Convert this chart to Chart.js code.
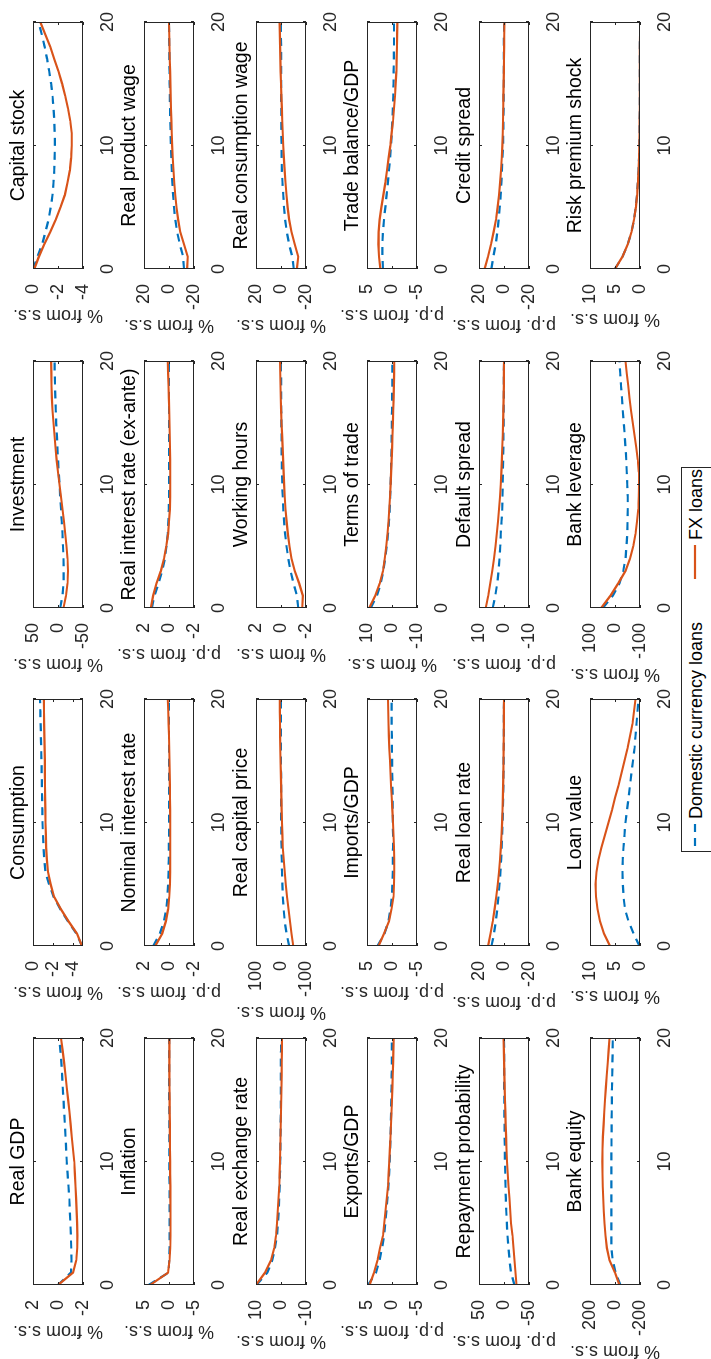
<!DOCTYPE html>
<html>
<head>
<meta charset="utf-8">
<script src="https://cdn.jsdelivr.net/npm/chart.js@4.4.1/dist/chart.umd.min.js"></script>
<style>
  html, body { margin: 0; padding: 0; background: #fff; overflow: hidden; }
  body { width: 711px; height: 1359px; position: relative; }
  /* the figure is laid out landscape and turned a quarter turn left */
  #fig { position: absolute; left: 0; top: 0; width: 1359px; height: 711px;
         transform-origin: 0 0; transform: translateY(1359px) rotate(-90deg); background: #fff; }
  #fig canvas { position: absolute; }
  .legend { position: absolute; left: 507px; top: 681px; width: 385px; height: 34px;
            box-sizing: border-box; border: 1px solid #262626; background: #fff;
            font-family: "Liberation Sans", Arial, sans-serif; font-size: 18px; color: #000; }
  .legend .item { position: absolute; top: 1px; height: 26px; line-height: 26px; white-space: nowrap; }
  .legend svg { position: absolute; top: 0; }
</style>
</head>
<body>
<div id="fig">
  <div class="legend">
    <svg width="385" height="26">
      <line x1="5" y1="13" x2="27" y2="13" stroke="#0072BD" stroke-width="2.2" stroke-dasharray="8,6"></line>
      <line x1="272" y1="13" x2="306" y2="13" stroke="#D95319" stroke-width="2.2"></line>
    </svg>
    <span class="item" style="left:32px">Domestic currency loans</span>
    <span class="item" style="left:311px">FX loans</span>
  </div>
</div>
<script>
// quarters after the shock
const steps = [0, 1, 2, 3, 4, 5, 6, 7, 8, 9, 10, 11, 12, 13, 14, 15, 16, 17, 18, 19, 20];
const xTicks = [0, 10, 20];

// row 1
const realGdpDom = [0, -1.03, -1.08, -1.06, -1.03, -0.99, -0.95, -0.9, -0.84, -0.77, -0.7, -0.65, -0.6, -0.55, -0.49, -0.44, -0.38, -0.33, -0.27, -0.19, -0.11];
const realGdpFx = [0, -1.2, -1.46, -1.54, -1.55, -1.53, -1.49, -1.45, -1.4, -1.35, -1.3, -1.2, -1.1, -1.01, -0.92, -0.81, -0.7, -0.6, -0.49, -0.37, -0.24];
const consumptionDom = [-4.9, -4.35, -3.5, -2.72, -2.05, -1.6, -1.25, -1.12, -1.05, -1.0, -0.95, -0.93, -0.91, -0.89, -0.87, -0.85, -0.82, -0.79, -0.76, -0.73, -0.7];
const consumptionFx = [-4.9, -4.4, -3.55, -2.77, -2.1, -1.76, -1.5, -1.39, -1.32, -1.28, -1.25, -1.23, -1.22, -1.2, -1.19, -1.18, -1.16, -1.14, -1.12, -1.1, -1.08];
const investmentDom = [-4.5, -9, -11, -11.3, -11, -10, -9, -7.5, -6, -4.5, -3, -1.5, 0, 1.2, 2.4, 3.6, 4.5, 5.3, 6, 6.5, 7];
const investmentFx = [-11, -16, -19, -20, -19, -17, -14.5, -12, -9, -6, -3, 0, 2.7, 5, 7, 9, 11, 12.2, 13, 13.4, 13.6];
const capitalDom = [0, -0.36, -0.73, -1.0, -1.24, -1.42, -1.56, -1.64, -1.7, -1.73, -1.75, -1.74, -1.7, -1.64, -1.56, -1.45, -1.3, -1.13, -0.93, -0.7, -0.45];
const capitalFx = [-0.1, -0.47, -0.9, -1.38, -1.82, -2.2, -2.55, -2.76, -2.95, -3.05, -3.1, -3.1, -2.98, -2.8, -2.58, -2.33, -2.04, -1.7, -1.38, -0.98, -0.58];
// row 2
const inflationDom = [4.1, 0.1, -0.05, -0.1, -0.12, -0.12, -0.12, -0.11, -0.1, -0.09, -0.08, -0.07, -0.06, -0.05, -0.05, -0.04, -0.04, -0.03, -0.03, -0.02, -0.02];
const inflationFx = [3.8, 0.2, -0.1, -0.25, -0.3, -0.3, -0.3, -0.28, -0.26, -0.24, -0.22, -0.2, -0.18, -0.16, -0.14, -0.12, -0.1, -0.09, -0.08, -0.07, -0.06];
const nominalRateDom = [1.27, 0.73, 0.4, 0.22, 0.12, 0.07, 0.04, 0.02, 0.01, 0, 0, 0, 0, 0, 0, 0, 0, 0, 0, 0, 0];
const nominalRateFx = [1.1, 0.55, 0.25, 0.07, -0.02, -0.07, -0.09, -0.1, -0.1, -0.1, -0.1, -0.09, -0.08, -0.07, -0.05, -0.04, -0.02, 0, 0.03, 0.06, 0.1];
const realRateDom = [1.38, 1.16, 0.84, 0.55, 0.33, 0.2, 0.1, 0.05, 0.02, 0, -0.01, -0.01, -0.01, 0, 0, 0, 0, 0, 0, 0, 0];
const realRateFx = [1.45, 1.27, 1.0, 0.65, 0.4, 0.22, 0.07, 0, -0.07, -0.09, -0.1, -0.1, -0.09, -0.08, -0.06, -0.04, -0.02, 0.01, 0.04, 0.07, 0.1];
const productWageDom = [-12, -11.3, -8.7, -6.5, -5, -4, -3.3, -2.7, -2.2, -1.8, -1.5, -1.25, -1.05, -0.85, -0.7, -0.55, -0.42, -0.3, -0.2, -0.1, 0];
const productWageFx = [-14.5, -15, -12, -9, -7.3, -6, -5, -4.2, -3.6, -3, -2.5, -2.2, -1.9, -1.6, -1.35, -1.1, -0.85, -0.6, -0.4, -0.2, 0];
// row 3
const exchangeRateDom = [9.8, 5.5, 3.5, 2.4, 1.6, 1.2, 0.9, 0.7, 0.5, 0.4, 0.3, 0.25, 0.2, 0.15, 0.1, 0.08, 0.06, 0.04, 0.02, 0.01, 0];
const exchangeRateFx = [10, 6.4, 4, 2.7, 2, 1.6, 1.3, 1.0, 0.7, 0.55, 0.4, 0.3, 0.2, 0.1, 0, -0.1, -0.2, -0.25, -0.3, -0.35, -0.4];
const capitalPriceDom = [-33, -22, -15, -10.5, -7, -5.5, -4, -3, -2, -1.3, -0.8, -0.5, -0.3, -0.2, -0.1, 0, 0, 0, 0, 0, 0];
const capitalPriceFx = [-49, -42, -36, -30, -24, -19, -15, -11, -7, -5.5, -4, -2.5, -1.5, -0.5, 0.5, 2, 3, 3.5, 4, 4.5, 5];
const hoursDom = [-1.38, -1.27, -1.0, -0.76, -0.58, -0.44, -0.33, -0.25, -0.18, -0.14, -0.1, -0.08, -0.06, -0.05, -0.04, -0.03, -0.02, -0.01, -0.01, 0, 0];
const hoursFx = [-1.7, -1.75, -1.45, -1.1, -0.84, -0.68, -0.55, -0.45, -0.36, -0.3, -0.25, -0.21, -0.17, -0.13, -0.09, -0.04, -0.01, 0.02, 0.04, 0.06, 0.07];
const consWageDom = [-10.2, -9, -6.5, -4.7, -3.3, -2.4, -1.8, -1.2, -0.7, -0.5, -0.4, -0.3, -0.25, -0.2, -0.15, -0.1, -0.08, -0.05, -0.03, -0.01, 0];
const consWageFx = [-12.7, -13.8, -11, -8.4, -6.5, -5.3, -4.4, -3.6, -2.9, -2.3, -1.8, -1.4, -1.0, -0.7, -0.35, 0, 0.3, 0.55, 0.75, 0.95, 1.1];
// row 4
const exportsDom = [4.8, 3.2, 2.5, 2.0, 1.6, 1.35, 1.1, 0.9, 0.7, 0.57, 0.45, 0.37, 0.3, 0.24, 0.18, 0.13, 0.09, 0.06, 0.04, 0.02, 0];
const exportsFx = [4.5, 3.6, 2.9, 2.4, 1.8, 1.55, 1.3, 1.05, 0.8, 0.68, 0.55, 0.42, 0.3, 0.2, 0.1, 0, -0.08, -0.15, -0.22, -0.29, -0.35];
const importsDom = [2.9, 1.5, 0.7, 0.3, 0.05, -0.1, -0.15, -0.18, -0.2, -0.2, -0.18, -0.15, -0.12, -0.08, -0.05, -0.02, 0.01, 0.04, 0.06, 0.08, 0.1];
const importsFx = [2.7, 1.6, 0.6, 0.1, -0.3, -0.4, -0.45, -0.45, -0.4, -0.3, -0.2, -0.07, 0.05, 0.2, 0.3, 0.4, 0.55, 0.62, 0.7, 0.75, 0.8];
const termsDom = [8.5, 6.0, 4.5, 3.5, 2.7, 2.1, 1.6, 1.2, 0.9, 0.7, 0.55, 0.42, 0.3, 0.2, 0.12, 0.05, 0, -0.05, -0.1, -0.15, -0.2];
const termsFx = [9.1, 6.7, 4.9, 3.6, 2.9, 2.3, 1.8, 1.4, 1.1, 0.8, 0.55, 0.35, 0.15, -0.05, -0.2, -0.36, -0.5, -0.62, -0.72, -0.82, -0.9];
const tradeBalDom = [1.8, 1.93, 1.93, 1.8, 1.6, 1.33, 1.07, 0.83, 0.6, 0.4, 0.2, 0.05, -0.07, -0.18, -0.27, -0.3, -0.33, -0.37, -0.4, -0.4, -0.4];
const tradeBalFx = [2.33, 2.6, 2.73, 2.67, 2.47, 2.13, 1.73, 1.33, 1.0, 0.67, 0.33, 0.07, -0.2, -0.4, -0.6, -0.73, -0.87, -0.94, -1.0, -1.04, -1.07];
// row 5
const repaymentDom = [-21, -14, -11, -9, -7, -5.8, -4.5, -3.6, -3, -2.5, -2, -1.6, -1.3, -1, -0.8, -0.6, -0.4, -0.3, -0.2, -0.1, 0];
const repaymentFx = [-25, -23, -21, -19, -17, -14, -12.5, -11, -9, -7.5, -6, -5, -4.2, -3.4, -2.7, -2, -1.4, -0.8, -0.3, 0.3, 1];
const loanRateDom = [10, 8, 6.5, 5.4, 4.4, 3.6, 2.9, 2.3, 1.8, 1.4, 1.1, 0.85, 0.65, 0.5, 0.38, 0.28, 0.2, 0.13, 0.08, 0.04, 0];
const loanRateFx = [12.7, 10.8, 9, 7.5, 6.2, 5, 4, 3.2, 2.5, 2.0, 1.5, 1.2, 0.95, 0.75, 0.55, 0.4, 0.3, 0.2, 0.1, 0.05, 0];
const defaultSpreadDom = [4.5, 3.5, 2.7, 2.2, 1.8, 1.5, 1.3, 1.0, 0.7, 0.6, 0.55, 0.45, 0.35, 0.28, 0.22, 0.16, 0.12, 0.08, 0.05, 0.02, 0];
const defaultSpreadFx = [7.3, 6.3, 5.5, 4.7, 4, 3.4, 2.9, 2.4, 2, 1.6, 1.3, 1.05, 0.85, 0.7, 0.5, 0.36, 0.25, 0.15, 0.08, 0.03, 0];
const creditSpreadDom = [10.1, 8.5, 6.7, 5.3, 4.3, 3.4, 2.7, 2.1, 1.6, 1.2, 0.8, 0.6, 0.45, 0.35, 0.25, 0.18, 0.12, 0.08, 0.05, 0.02, 0];
const creditSpreadFx = [15.5, 12.8, 10.4, 8.3, 6.4, 5.1, 4.0, 3.1, 2.4, 1.8, 1.3, 1.0, 0.8, 0.6, 0.45, 0.3, 0.15, 0, -0.1, -0.2, -0.3];
// row 6
const bankEquityDom = [-44, -4, 18, 29, 29, 29, 29, 29, 29, 29, 29, 28, 28, 27, 26, 25, 24, 22, 21, 19, 18];
const bankEquityFx = [-36, 0, 44, 65, 76, 84, 90, 94, 98, 100, 102, 100, 97, 91, 86, 80, 73, 66, 58, 51, 44];
const loanValueDom = [0.1, 1.3, 2.3, 3.0, 3.3, 3.45, 3.5, 3.45, 3.3, 3.1, 2.9, 2.6, 2.3, 2.0, 1.7, 1.4, 1.1, 0.9, 0.7, 0.5, 0.3];
const loanValueFx = [6.0, 7.2, 8.0, 8.5, 8.8, 8.9, 8.7, 8.3, 7.7, 7.0, 6.3, 5.6, 5.0, 4.3, 3.7, 3.1, 2.5, 2.0, 1.5, 1.2, 0.9];
const leverageDom = [49, 9, -18, -33, -42, -46, -49, -50, -51, -51, -49, -47, -45, -42, -39, -35, -31, -28, -24, -21, -18];
const leverageFx = [55, 18, -13, -42, -60, -73, -82, -88, -93, -95, -96, -95, -91, -85, -78, -71, -64, -58, -53, -47, -42];
const riskPremiumDom = [5.0, 3.5, 2.45, 1.7, 1.2, 0.84, 0.59, 0.41, 0.29, 0.2, 0.14, 0.1, 0.07, 0.05, 0.03, 0.02, 0.02, 0.01, 0.01, 0, 0];
const riskPremiumFx = [5.0, 3.5, 2.45, 1.7, 1.2, 0.84, 0.59, 0.41, 0.29, 0.2, 0.14, 0.1, 0.07, 0.05, 0.03, 0.02, 0.02, 0.01, 0.01, 0, 0];

const titles = [
  'Real GDP', 'Consumption', 'Investment', 'Capital stock',
  'Inflation', 'Nominal interest rate', 'Real interest rate (ex-ante)', 'Real product wage',
  'Real exchange rate', 'Real capital price', 'Working hours', 'Real consumption wage',
  'Exports/GDP', 'Imports/GDP', 'Terms of trade', 'Trade balance/GDP',
  'Repayment probability', 'Real loan rate', 'Default spread', 'Credit spread',
  'Bank equity', 'Loan value', 'Bank leverage', 'Risk premium shock'
];
const PCT = '% from s.s.';
const PP = 'p.p. from s.s.';
const yLabels = [
  PCT, PCT, PCT, PCT,
  PCT, PP, PP, PCT,
  PCT, PCT, PCT, PCT,
  PP, PP, PCT, PP,
  PP, PP, PP, PP,
  PCT, PCT, PCT, PCT
];
const yLimits = [
  [-2, 2], [-5, 0], [-50, 50], [-4, 0],
  [-5, 5], [-2, 2], [-2, 2], [-20, 20],
  [-10, 10], [-100, 100], [-2, 2], [-20, 20],
  [-5, 5], [-5, 5], [-10, 10], [-5, 5],
  [-50, 50], [-20, 20], [-10, 10], [-20, 20],
  [-200, 200], [0, 10], [-100, 100], [0, 10]
];
const yTickSets = [
  [-2, 0, 2], [-4, -2, 0], [-50, 0, 50], [-4, -2, 0],
  [-5, 0, 5], [-2, 0, 2], [-2, 0, 2], [-20, 0, 20],
  [-10, 0, 10], [-100, 0, 100], [-2, 0, 2], [-20, 0, 20],
  [-5, 0, 5], [-5, 0, 5], [-10, 0, 10], [-5, 0, 5],
  [-50, 0, 50], [-20, 0, 20], [-10, 0, 10], [-20, 0, 20],
  [-200, 0, 200], [0, 5, 10], [-100, 0, 100], [0, 5, 10]
];
const domSeries = [
  realGdpDom, consumptionDom, investmentDom, capitalDom,
  inflationDom, nominalRateDom, realRateDom, productWageDom,
  exchangeRateDom, capitalPriceDom, hoursDom, consWageDom,
  exportsDom, importsDom, termsDom, tradeBalDom,
  repaymentDom, loanRateDom, defaultSpreadDom, creditSpreadDom,
  bankEquityDom, loanValueDom, leverageDom, riskPremiumDom
];
const fxSeries = [
  realGdpFx, consumptionFx, investmentFx, capitalFx,
  inflationFx, nominalRateFx, realRateFx, productWageFx,
  exchangeRateFx, capitalPriceFx, hoursFx, consWageFx,
  exportsFx, importsFx, termsFx, tradeBalFx,
  repaymentFx, loanRateFx, defaultSpreadFx, creditSpreadFx,
  bankEquityFx, loanValueFx, leverageFx, riskPremiumFx
];

const FONT = '"Liberation Sans", Arial, Helvetica, sans-serif';
const TITLE_SIZE = 19.5, TICK_SIZE = 18, LABEL_SIZE = 18;
const INK = '#262626';
const BLUE = '#0072BD', RED = '#D95319';

// grid of plot boxes in the landscape figure
const PLOT_X0 = 74, COL_STEP = 338.7, PLOT_W = 249;
const PLOT_Y0 = 33, ROW_STEP = 111.4, PLOT_H = 50;
const LEFT = 88, RIGHT = 14, TOP = 30, BOTTOM = 40;
const Y_TICK_PAD = 7, LABEL_GAP = 12;

Chart.defaults.font.family = FONT;
Chart.defaults.color = INK;

// box with inward tick marks, like the original axes
const boxAxes = {
  id: 'boxAxes',
  afterDatasetsDraw(chart) {
    const { ctx, chartArea: a, scales: { x, y } } = chart;
    const tl = 3;
    ctx.save();
    ctx.strokeStyle = INK;
    ctx.lineWidth = 1;
    ctx.strokeRect(a.left + 0.5, a.top + 0.5, a.width - 1, a.height - 1);
    ctx.beginPath();
    x.ticks.forEach(t => {
      const px = Math.round(x.getPixelForValue(t.value)) + 0.5;
      ctx.moveTo(px, a.bottom); ctx.lineTo(px, a.bottom - tl);
      ctx.moveTo(px, a.top); ctx.lineTo(px, a.top + tl);
    });
    y.ticks.forEach(t => {
      const py = Math.round(y.getPixelForValue(t.value)) + 0.5;
      ctx.moveTo(a.left, py); ctx.lineTo(a.left + tl, py);
      ctx.moveTo(a.right, py); ctx.lineTo(a.right - tl, py);
    });
    ctx.stroke();
    ctx.restore();
  }
};

const measure = document.createElement('canvas').getContext('2d');
measure.font = TICK_SIZE + 'px ' + FONT;

const fig = document.getElementById('fig');
titles.forEach((title, i) => {
  const row = Math.floor(i / 4), col = i % 4;
  const plotLeft = Math.round(PLOT_X0 + col * COL_STEP);
  const plotTop = Math.round(PLOT_Y0 + row * ROW_STEP);
  const w = LEFT + PLOT_W + RIGHT, h = TOP + PLOT_H + BOTTOM;

  const canvas = document.createElement('canvas');
  canvas.width = w; canvas.height = h;
  canvas.style.width = w + 'px'; canvas.style.height = h + 'px';
  canvas.style.left = (plotLeft - LEFT) + 'px';
  canvas.style.top = (plotTop - TOP) + 'px';
  fig.appendChild(canvas);

  // put the y label just outside the widest tick label
  const widest = Math.max(...yTickSets[i].map(v => measure.measureText(String(v)).width));
  const labelPad = LEFT - (Y_TICK_PAD + widest + LABEL_GAP + LABEL_SIZE * 1.2);

  new Chart(canvas, {
    type: 'line',
    data: {
      datasets: [
        { label: 'FX loans', data: steps.map((s, k) => ({ x: s, y: fxSeries[i][k] })),
          borderColor: RED, borderWidth: 2.2, pointRadius: 0, tension: 0, fill: false },
        { label: 'Domestic currency loans', data: steps.map((s, k) => ({ x: s, y: domSeries[i][k] })),
          borderColor: BLUE, borderWidth: 2.2, borderDash: [8, 6], pointRadius: 0, tension: 0, fill: false }
      ]
    },
    options: {
      responsive: false,
      animation: false,
      events: [],
      layout: { padding: { left: 0, right: RIGHT, top: 0, bottom: 0 } },
      plugins: {
        legend: { display: false },
        tooltip: { enabled: false },
        title: {
          display: true, text: title, color: '#000', fullSize: false,
          font: { size: TITLE_SIZE, weight: 'normal' },
          padding: { top: TOP - TITLE_SIZE * 1.2 - 3, bottom: 3 }
        }
      },
      scales: {
        x: {
          type: 'linear', min: 0, max: 20,
          grid: { display: false }, border: { display: false },
          ticks: { font: { size: TICK_SIZE }, color: INK, padding: 6, maxRotation: 0, callback: v => String(v) },
          afterBuildTicks: s => { s.ticks = xTicks.map(v => ({ value: v })); },
          afterFit: s => { s.height = BOTTOM; }
        },
        y: {
          type: 'linear', min: yLimits[i][0], max: yLimits[i][1],
          grid: { display: false }, border: { display: false },
          ticks: { font: { size: TICK_SIZE }, color: INK, padding: Y_TICK_PAD, callback: v => String(v) },
          afterBuildTicks: s => { s.ticks = yTickSets[i].map(v => ({ value: v })); },
          afterFit: s => { s.width = LEFT; },
          title: {
            display: true, text: yLabels[i], color: INK,
            font: { size: LABEL_SIZE },
            padding: { top: labelPad, bottom: 0 }
          }
        }
      }
    },
    plugins: [boxAxes]
  });
});
</script>
</body>
</html>
